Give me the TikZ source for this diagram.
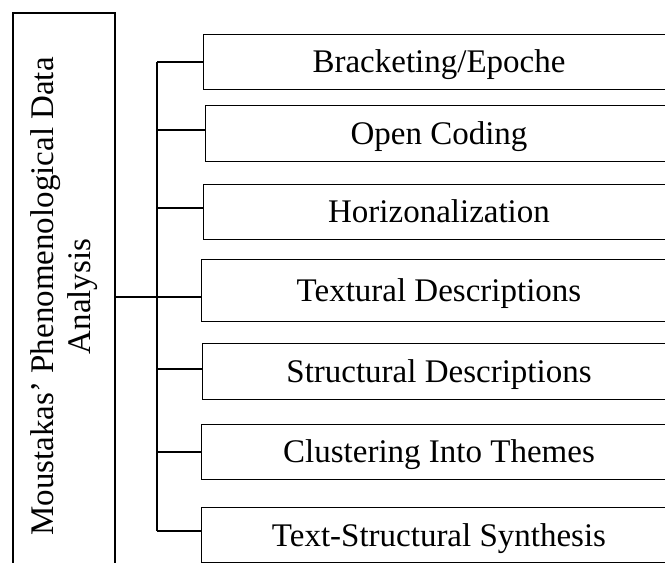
\documentclass[tikz,border=0pt]{standalone}
\usepackage{fontspec}
\setmainfont{Liberation Serif}
\begin{document}
\begin{tikzpicture}[x=1pt,y=-1pt,
  every node/.style={font=\fontsize{33}{37}\selectfont},
  stage/.style={draw, line width=1.3pt, rectangle, inner sep=0pt, anchor=north west},
  label/.style={anchor=base, inner sep=0pt},
  link/.style={line width=1.3pt},
  trunk/.style={line width=1.7pt}]
\useasboundingbox (0,0) rectangle (665,563);
\clip (0,0) rectangle (665,563);

% root box and its rotated title
\node[draw, line width=1.4pt, minimum width=102pt, minimum height=554pt,
      inner sep=0pt] (root) at (64,290) {};
\node[rotate=90, align=center, inner sep=0pt] (title) at (64,296.5)
  {Moustakas' Phenomenological Data\\Analysis};

% stage boxes (right side runs past the page edge)
\node[stage, minimum width=473pt, minimum height=55pt] (b1) at (203,34)  {};
\node[stage, minimum width=471pt, minimum height=56pt] (b2) at (205,105) {};
\node[stage, minimum width=473pt, minimum height=55pt] (b3) at (203,184) {};
\node[stage, minimum width=475pt, minimum height=62pt] (b4) at (201,259) {};
\node[stage, minimum width=474pt, minimum height=56pt] (b5) at (202,343) {};
\node[stage, minimum width=475pt, minimum height=55pt] (b6) at (201,424) {};
\node[stage, minimum width=475pt, minimum height=55pt] (b7) at (201,507) {};

% stage labels, placed on their baselines
\node[label] (t1) at (439,72.5)  {Bracketing/Epoche};
\node[label] (t2) at (439,144)   {Open Coding};
\node[label] (t3) at (439,222.5) {Horizonalization};
\node[label] (t4) at (439,301)   {Textural Descriptions};
\node[label] (t5) at (439,382)   {Structural Descriptions};
\node[label] (t6) at (439,462.5) {Clustering Into Themes};
\node[label] (t7) at (439,546)   {Text-Structural Synthesis};

% junctions on the vertical trunk
\coordinate (j1) at (157,62);
\coordinate (j2) at (157,130);
\coordinate (j3) at (157,208);
\coordinate (j4) at (157,297);
\coordinate (j5) at (157,369);
\coordinate (j6) at (157,452);
\coordinate (j7) at (157,531);

\draw[trunk] (j1) -- (j7);
\draw[link] (root.east |- j4) -- (j4 -| b4.west);
\draw[link] (j1) -- (j1 -| b1.west);
\draw[link] (j2) -- (j2 -| b2.west);
\draw[link] (j3) -- (j3 -| b3.west);
\draw[link] (j5) -- (j5 -| b5.west);
\draw[link] (j6) -- (j6 -| b6.west);
\draw[link] (j7) -- (j7 -| b7.west);
\end{tikzpicture}
\end{document}
